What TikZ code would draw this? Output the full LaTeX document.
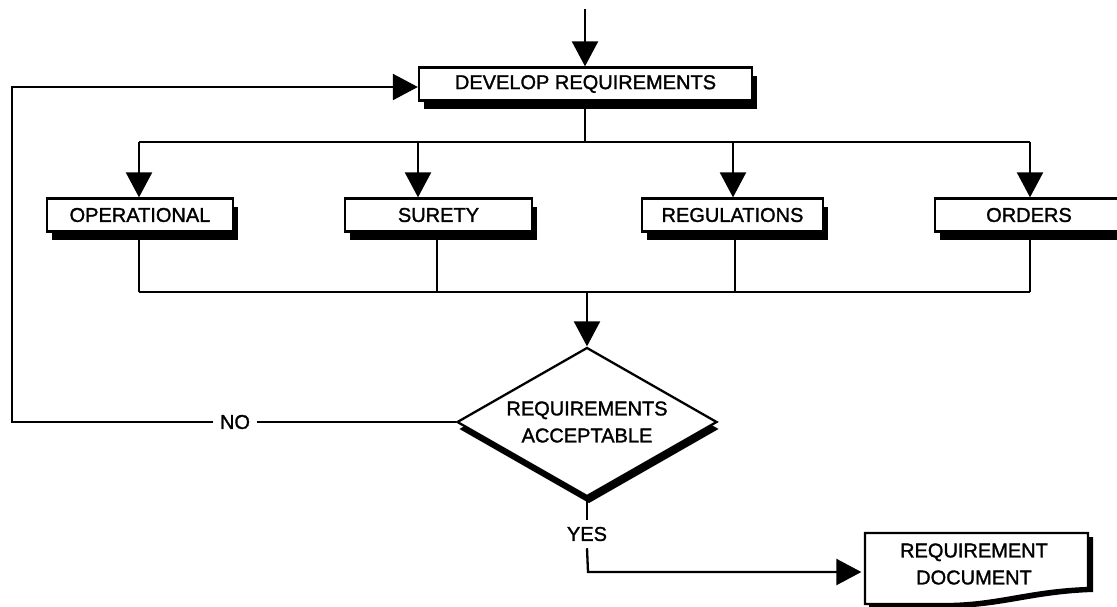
\documentclass[tikz,border=0pt]{standalone}
\usepackage{fontspec}
\setmainfont{Liberation Sans}[FakeBold=1.4]
\usetikzlibrary{arrows.meta,shapes.geometric,shadows}

\begin{document}
\begin{tikzpicture}[x=1pt,y=-1pt,
  line width=2.3pt,
  every node/.style={font=\fontsize{20}{27}\selectfont},
  flow/.style={-{Triangle[width=26pt,length=25pt]}},
  shade/.style={drop shadow={shadow xshift=5pt,shadow yshift=-8pt,opacity=1,fill=black}},
  stepbox/.style={draw,fill=white,inner sep=0pt,minimum height=33pt,shade},
  decision/.style={diamond,draw,fill=white,inner sep=0pt,aspect=1.745,
    minimum width=260pt,minimum height=149pt,align=center,
    drop shadow={shadow xshift=2pt,shadow yshift=-7pt,opacity=1,fill=black}},
  tag/.style={inner sep=6pt}
]
\useasboundingbox (0,0) rectangle (1117,606);

% main step boxes
\node[stepbox,minimum width=333pt] (dev) at (585.5,84) {DEVELOP REQUIREMENTS};
\node[stepbox,minimum width=186pt] (op)  at (140,215)   {OPERATIONAL};
\node[stepbox,minimum width=187pt] (sur) at (438.5,215) {SURETY};
\node[stepbox,minimum width=181pt] (reg) at (732.5,215) {REGULATIONS};
\node[stepbox,minimum width=188pt] (ord) at (1029,215)  {ORDERS};

% decision
\node[decision] (dia) at (587,422) {REQUIREMENTS\\ACCEPTABLE};
\node[tag] (no)  at (235,422) {NO};
\node[tag] (yes) at (587,534) {YES};

% requirement document: shadow and outline with a wavy lower edge
\fill[black] (869,537) -- (1093,537) -- (1093,592)
  .. controls (1034,594) and (1004,607) .. (954,608) -- (869,608) -- cycle;
\draw[fill=white] (865,533) -- (1088,533) -- (1088,588)
  .. controls (1030,590) and (1000,603) .. (950,604) -- (865,604) -- cycle;
\node[minimum width=223pt,minimum height=71pt,align=center] (doc) at (974,564)
  {REQUIREMENT\\DOCUMENT};

% routing points
\coordinate (in)  at (585,9);
\coordinate (sp)  at (585,142);
\coordinate (a1)  at (139,142);
\coordinate (a2)  at (418,142);
\coordinate (a3)  at (733,142);
\coordinate (a4)  at (1030,142);
\coordinate (b1)  at (139,292);
\coordinate (b2)  at (437,292);
\coordinate (b3)  at (735,292);
\coordinate (b4)  at (1030,292);
\coordinate (fbl) at (12,422);
\coordinate (fbt) at (12,87);
\coordinate (yc)  at (588,572);

% entry
\draw[flow] (in) -- (in |- dev.north);

% fan-out
\draw (sp |- dev.south) -- (sp);
\draw (a1) -- (a4);
\draw[flow] (a1) -- (a1 |- op.north);
\draw[flow] (a2) -- (a2 |- sur.north);
\draw[flow] (a3) -- (a3 |- reg.north);
\draw[flow] (a4) -- (a4 |- ord.north);

% fan-in
\draw (b1 |- op.south) -- (b1);
\draw (b2 |- sur.south) -- (b2);
\draw (b3 |- reg.south) -- (b3);
\draw (b4 |- ord.south) -- (b4);
\draw (b1) -- (b4);
\draw[flow] (dia.north |- b1) -- (dia.north);

% rejected: back to the start
\draw (dia.west) -- (no.east);
\draw[flow] (no.west) -- (fbl) -- (fbt) -- (fbt -| dev.west);

% accepted
\draw (dia.south) -- (yes.north);
\draw[flow] (yes.south) -- (yc) -- (yc -| doc.west);
\end{tikzpicture}
\end{document}
